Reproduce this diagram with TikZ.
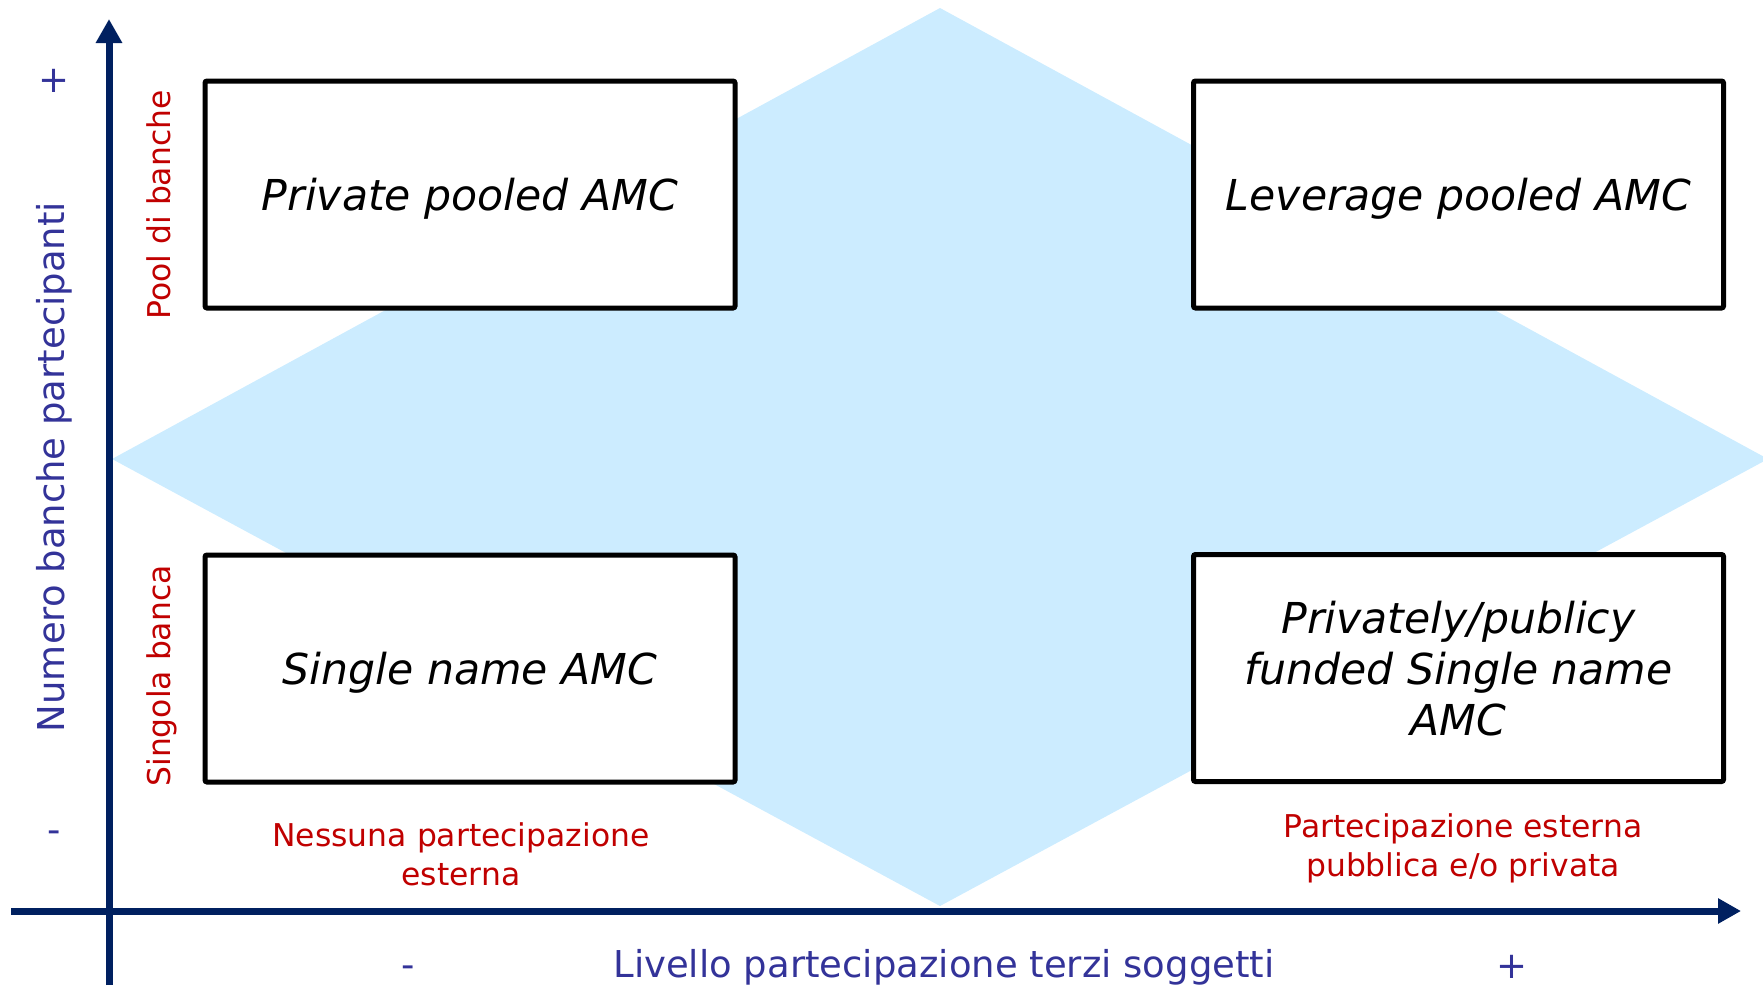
\documentclass[tikz,border=0pt]{standalone}
\usepackage{fontspec}
\setmainfont{DejaVu Sans}
\usetikzlibrary{arrows.meta}
\definecolor{navy}{HTML}{002060}
\definecolor{lblue}{HTML}{CCECFF}
\definecolor{axblue}{HTML}{333399}
\definecolor{dred}{HTML}{C00000}
\tikzset{
  axisline/.style={draw=navy,line width=7pt},
  quadbox/.style={draw=black,fill=white,line width=5pt,rounded corners=2pt,
    minimum width=530pt,minimum height=227pt,align=center,inner sep=0pt,
    text depth=0pt,font=\fontsize{42.6}{51}\selectfont\itshape},
  redlab/.style={text=dred,align=center,font=\fontsize{31.4}{39}\selectfont,inner sep=0pt},
  bluelab/.style={text=axblue,font=\fontsize{37}{44}\selectfont,inner sep=0pt}
}
\begin{document}
\begin{tikzpicture}[x=1pt,y=-1pt]
\useasboundingbox (0,0) rectangle (1763,985);
% diamond
\fill[lblue] (940,8) -- (112,459) -- (940,906) -- (1768,459) -- cycle;
% axes
\coordinate (vb) at (109,985);
\coordinate (vt) at (109,19);
\coordinate (hl) at (11,911);
\coordinate (hr) at (1741,911);
\draw[axisline,-{Triangle[length=24pt,width=25pt]}] (vb) -- (vt);
\draw[axisline,-{Triangle[length=23pt,width=24pt]}] (hl) -- (hr);
% boxes
\node[quadbox] (ppa) at (470,194.5) {Private pooled AMC};
\node[quadbox] (lpa) at (1458.5,194.5) {Leverage pooled AMC};
\node[quadbox] (sna) at (470,668.5) {Single name AMC};
\node[quadbox] (pfa) at (1458.5,668) {Privately/publicy\\funded Single name\\AMC};
% red labels
\node[redlab,rotate=90] (pool) at (159,205) {Pool di banche};
\node[redlab,rotate=90] (sing) at (162,676) {Singola banca};
\node[redlab] (ness) at (461,854) {Nessuna partecipazione\\esterna};
\node[redlab] (part) at (1463,848) {Partecipazione esterna\\pubblica e/o privata};
% axis labels
\node[bluelab,rotate=90] (ylab) at (54,467) {Numero banche partecipanti};
\node[bluelab] (yplus) at (54,81) {+};
\node[bluelab] (yminus) at (54,837) {-};
\node[bluelab] (xlab) at (944,967) {Livello partecipazione terzi soggetti};
\node[bluelab] (xminus) at (408,972) {-};
\node[bluelab] (xplus) at (1512,967) {+};
\end{tikzpicture}
\end{document}
